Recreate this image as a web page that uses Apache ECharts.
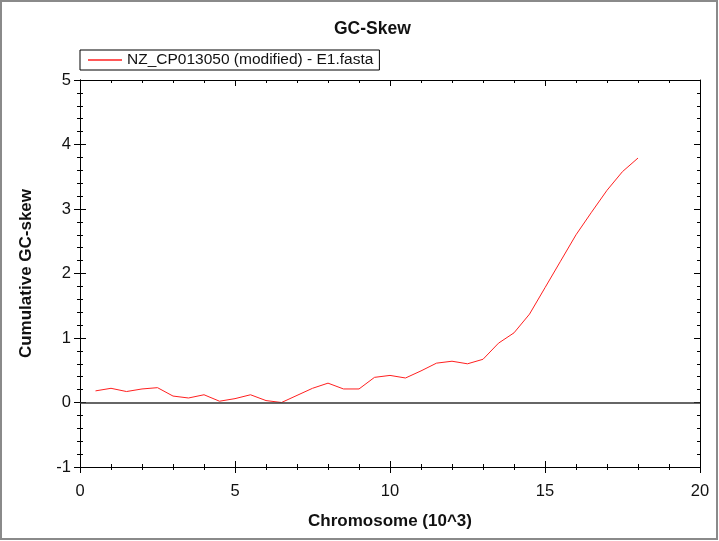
<!DOCTYPE html>
<html>
<head>
<meta charset="utf-8">
<script src="https://cdn.jsdelivr.net/npm/echarts@6/dist/echarts.min.js"></script>
<style>html,body{margin:0;padding:0;background:#fff}#c{width:719px;height:541px}</style>
</head>
<body>
<div id="c"></div>
<script>
var chartTitle = 'GC-Skew';
var seriesName = 'NZ_CP013050 (modified) - E1.fasta';
var xName = 'Chromosome (10^3)';
var yName = 'Cumulative GC-skew';
var positions = [0.5,1,1.5,2,2.5,3,3.5,4,4.5,5,5.5,6,6.5,7,7.5,8,8.5,9,9.5,10,10.5,11,11.5,12,12.5,13,13.5,14,14.5,15,15.5,16,16.5,17,17.5,18];
var skew = [0.18,0.22,0.17,0.21,0.23,0.10,0.07,0.12,0.02,0.06,0.12,0.03,0.00,0.11,0.22,0.30,0.21,0.21,0.39,0.42,0.38,0.49,0.61,0.64,0.60,0.67,0.92,1.08,1.37,1.78,2.19,2.60,2.95,3.29,3.58,3.79];

var pts = positions.map(function(x,i){return [x, skew[i]];});
var font = '"Liberation Sans", Arial, sans-serif';
var grid = {left:80, right:19, top:80, bottom:74};

var chart = echarts.init(document.getElementById('c'));
var axLine = {show:true, onZero:false, lineStyle:{color:'#000', width:1}};
function tick(inside, len){ return {show:true, inside:inside, length:len, lineStyle:{color:'#000'}}; }
function xa(opts){
  return Object.assign({type:'value', min:0, max:20, interval:5, splitLine:{show:false},
    axisLine:axLine, minorTick:{show:true, splitNumber:5, length:3, lineStyle:{color:'#000'}},
    axisTick:tick(true,6), axisLabel:{show:false}}, opts);
}
function ya(opts){
  return Object.assign({type:'value', min:-1, max:5, interval:1, splitLine:{show:false},
    axisLine:axLine, minorTick:{show:true, splitNumber:5, length:3, lineStyle:{color:'#000'}},
    axisTick:tick(true,6), axisLabel:{show:false}}, opts);
}
chart.setOption({
  animation:false,
  backgroundColor:'#fff',
  title:{text:chartTitle, left:329, top:15,
    textStyle:{fontFamily:font, fontSize:17.5, fontWeight:'bold', color:'#111'}},
  legend:{show:true, left:80, top:50, orient:'horizontal', borderColor:'#000', borderWidth:1,
    padding:[2,6,2,8], itemWidth:34, itemHeight:1.5, icon:'rect', itemGap:6,
    textStyle:{fontFamily:font, fontSize:15.5, color:'#111'}},
  grid:grid,
  xAxis:[
    xa({position:'bottom', axisTick:tick(false,6),
      minorTick:{show:true, splitNumber:5, length:3, lineStyle:{color:'#000'}},
      axisLabel:{show:true, margin:16, fontFamily:font, fontSize:16.5, color:'#111'},
      name:xName, nameLocation:'middle', nameGap:46,
      nameTextStyle:{fontFamily:font, fontSize:17, fontWeight:'bold', color:'#111'}}),
    xa({position:'bottom'}),
    xa({position:'top'})
  ],
  yAxis:[
    ya({position:'left', axisTick:tick(false,6),
      axisLabel:{show:true, margin:9, fontFamily:font, fontSize:16.5, color:'#111'},
      name:yName, nameLocation:'middle', nameGap:45, nameRotate:90,
      nameTextStyle:{fontFamily:font, fontSize:17, fontWeight:'bold', color:'#111'}}),
    ya({position:'left'}),
    ya({position:'right'})
  ],
  series:[{
    name:seriesName, type:'line', data:pts, xAxisIndex:0, yAxisIndex:0,
    symbol:'none', smooth:false, color:'#ff2020',
    lineStyle:{color:'#ff2020', width:1},
    markLine:{silent:true, symbol:['none','none'], label:{show:false},
      lineStyle:{color:'#333', width:1.5, type:'solid'}, data:[{yAxis:0}]}
  }],
  graphic:[{type:'rect', shape:{x:1, y:1, width:716, height:538}, silent:true,
    style:{fill:'none', stroke:'#8a8a8a', lineWidth:2}}]
});
</script>
</body>
</html>
